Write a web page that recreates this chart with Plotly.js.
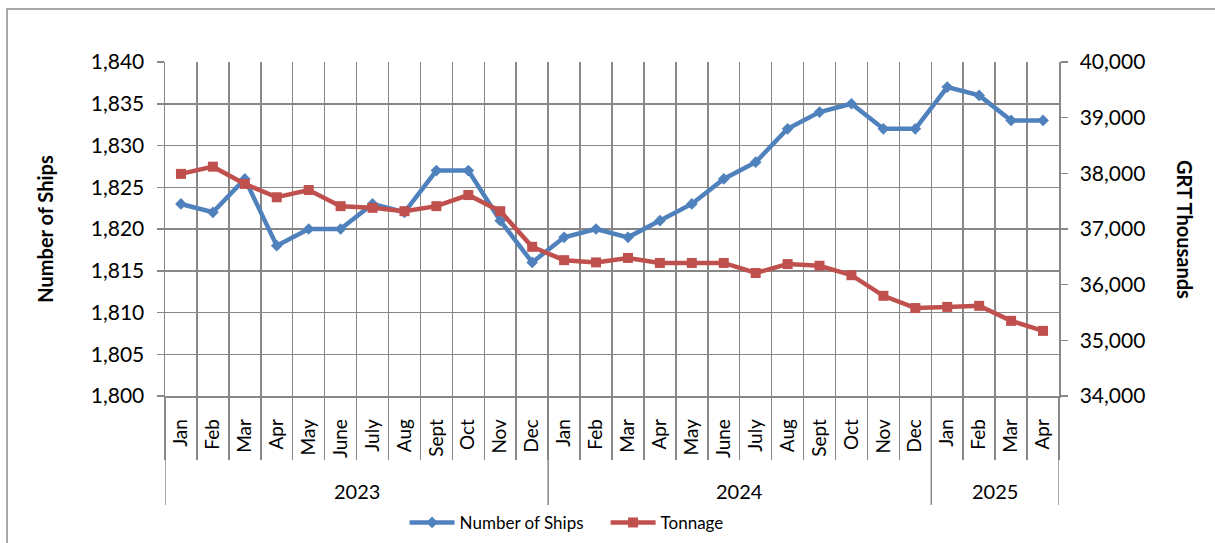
<!DOCTYPE html>
<html>
<head>
<meta charset="utf-8">
<script src="https://cdn.plot.ly/plotly-3.0.1.min.js"></script>
<style>html,body{margin:0;padding:0;background:#fff;}#chart{width:1215px;height:543px;}</style>
</head>
<body>
<div id="chart"></div>
<script>
const months = ['Jan','Feb','Mar','Apr','May','June','July','Aug','Sept','Oct','Nov','Dec',
                'Jan','Feb','Mar','Apr','May','June','July','Aug','Sept','Oct','Nov','Dec',
                'Jan','Feb','Mar','Apr'];
const years = ['2023','2023','2023','2023','2023','2023','2023','2023','2023','2023','2023','2023',
               '2024','2024','2024','2024','2024','2024','2024','2024','2024','2024','2024','2024',
               '2025','2025','2025','2025'];
const ships = [1823,1822,1826,1818,1820,1820,1823,1822,1827,1827,1821,1816,
               1819,1820,1819,1821,1823,1826,1828,1832,1834,1835,1832,1832,
               1837,1836,1833,1833];
const tonnage = [37990,38120,37810,37570,37700,37410,37380,37320,37410,37610,37320,36680,
                 36440,36400,36480,36390,36390,36390,36210,36370,36340,36170,35800,35580,
                 35600,35620,35350,35170];

const FONT = 'Lato, "Open Sans", sans-serif';
const GRID = '#878787';
const xs = months.map((_, i) => i);

// year groups
const groups = [];
years.forEach((y, i) => {
  const g = groups[groups.length - 1];
  if (g && g.year === y) g.end = i; else groups.push({year: y, start: i, end: i});
});

const shapes = [];
const annotations = [];
const divBottom = -0.326;
groups.forEach((g, k) => {
  if (k === 0) shapes.push({type:'line', xref:'x', yref:'paper', x0:g.start-0.5, x1:g.start-0.5, y0:0, y1:divBottom, line:{color:GRID, width:1.5}});
  shapes.push({type:'line', xref:'x', yref:'paper', x0:g.end+0.5, x1:g.end+0.5, y0:0, y1:divBottom, line:{color:GRID, width:1.5}});
  annotations.push({xref:'x', yref:'paper', x:(g.start+g.end)/2, y:-0.284, text:g.year, showarrow:false,
    font:{family:FONT, size:20, color:'#000'}, xanchor:'center', yanchor:'middle'});
});
// outer border
shapes.push({type:'rect', xref:'paper', yref:'paper', x0:-0.1767, x1:1.25, y0:-0.6, y1:1.1587, line:{color:'#8c8c8c', width:1.5}});
annotations.push({xref:'paper', yref:'paper', x:1.141, y:0.5, text:'<b>GRT Thousands</b>', textangle:90, showarrow:false,
  font:{family:FONT, size:20, color:'#000'}, xanchor:'center', yanchor:'middle'});

const traces = [
  {x: xs, y: ships, name:'Number of Ships', type:'scatter', mode:'lines+markers',
   line:{color:'#4F81BD', width:4.5}, marker:{symbol:'diamond', size:9, color:'#4F81BD'}, yaxis:'y'},
  {x: xs, y: tonnage, name:'Tonnage', type:'scatter', mode:'lines+markers',
   line:{color:'#C0504D', width:4.5}, marker:{symbol:'square', size:10, color:'#C0504D'}, yaxis:'y2'}
];

const layout = {
  width:1215, height:543,
  margin:{l:165, r:156, t:62, b:147, autoexpand:false},
  paper_bgcolor:'#fff', plot_bgcolor:'#fff',
  font:{family:FONT, color:'#000'},
  showlegend:true,
  legend:{orientation:'h', x:0.268, xanchor:'left', y:-0.38, yanchor:'middle', font:{family:FONT, size:17, color:'#000'},
          itemwidth:45, entrywidth:141, entrywidthmode:'pixels', tracegroupgap:0},
  xaxis:{
    range:[-0.5, months.length - 0.5], tickmode:'array', tickvals:xs, ticktext:months,
    tickangle:-90, ticks:'', showgrid:false, zeroline:false, showline:true, linecolor:GRID, linewidth:1.5,
    tickfont:{family:FONT, size:19, color:'#000'}, ticklabelstandoff:14,
    minor:{tickmode:'linear', tick0:-0.5, dtick:1, showgrid:true, gridcolor:GRID, gridwidth:1.5, ticks:'outside', ticklen:62, tickcolor:GRID, tickwidth:1.5},
    fixedrange:true
  },
  yaxis:{
    range:[1800,1840], dtick:5, tick0:1800, tickformat:',d', showgrid:true, gridcolor:GRID, gridwidth:1.5,
    zeroline:false, showline:true, linecolor:GRID, linewidth:1.5, ticks:'outside', ticklen:7, tickcolor:GRID, tickwidth:1.5,
    tickfont:{family:FONT, size:21, color:'#000'}, ticklabelstandoff:8,
    title:{text:'<b>Number of Ships</b>', font:{family:FONT, size:20, color:'#000'}, standoff:32}
  },
  yaxis2:{
    overlaying:'y', side:'right', range:[34000,40000], dtick:1000, tick0:34000, tickformat:',d', showgrid:false,
    zeroline:false, showline:true, linecolor:GRID, linewidth:1.5, ticks:'outside', ticklen:7, tickcolor:GRID, tickwidth:1.5,
    tickfont:{family:FONT, size:21, color:'#000'}, ticklabelstandoff:8
  },
  shapes: shapes,
  annotations: annotations
};

Plotly.newPlot('chart', traces, layout, {displayModeBar:false, staticPlot:true});
</script>
</body>
</html>
